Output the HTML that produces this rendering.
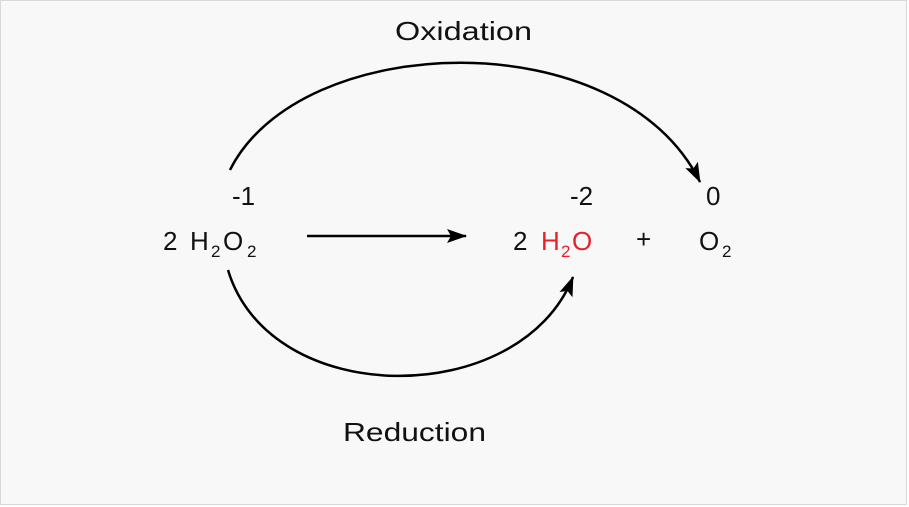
<!DOCTYPE html>
<html><head><style>
body{margin:0;background:#fff;}
.wrap{position:relative;width:909px;height:507px;overflow:hidden;}
svg{position:absolute;left:0;top:0;}
text{font-family:"Liberation Sans",sans-serif;font-size:26px;fill:#111;}
.s{font-size:17px;}
.r{fill:#e8202a;}
</style></head><body><div class="wrap">
<svg width="909" height="507" viewBox="0 0 909 507">
<defs>
<marker id="a" markerWidth="20" markerHeight="14" refX="19" refY="7" orient="auto" markerUnits="userSpaceOnUse">
<path d="M0,0 L20,7 L0,14 L4,7 z" fill="#000"/>
</marker>
</defs>
<rect x="0.5" y="0.5" width="906" height="504" fill="#f8f8f8" stroke="#d8d8d8"/>
<path d="M230 170 C 300 30, 620 20, 700 182" fill="none" stroke="#000" stroke-width="2.5" marker-end="url(#a)"/>
<path d="M228 270 C 270 410, 520 410, 573 277" fill="none" stroke="#000" stroke-width="2.5" marker-end="url(#a)"/>
<line x1="307" y1="236" x2="466" y2="236" stroke="#000" stroke-width="2.5" marker-end="url(#a)"/>
<text x="395" y="40" textLength="137" lengthAdjust="spacingAndGlyphs">Oxidation</text>
<text x="343" y="441" textLength="143" lengthAdjust="spacingAndGlyphs">Reduction</text>
<text x="232" y="205">-1</text>
<text x="570" y="205">-2</text>
<text x="706" y="205">0</text>
<text x="163" y="250">2</text><text x="190" y="250">H</text><text class="s" x="211" y="257">2</text><text x="223" y="250">O</text><text class="s" x="247" y="257">2</text>
<text x="513" y="250">2</text><text class="r" x="541" y="250">H</text><text class="s r" x="561" y="257">2</text><text class="r" x="572" y="250">O</text>
<text x="636" y="248">+</text>
<text x="699" y="250">O</text><text class="s" x="722" y="257">2</text>
</svg></div></body></html>
